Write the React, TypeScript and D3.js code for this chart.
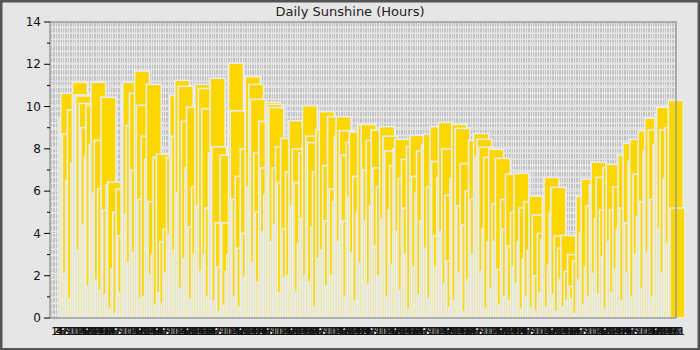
import React from "react";
import * as d3 from "d3";

const sunshine: number[] = [
  9.46, 10.63, 8.7, 2.1, 6.5, 9.84, 0.9, 7.3, 11.15, 10.55,
  10.5, 3.2, 10.15, 9.0, 4.4, 7.6, 10.06, 1.5, 8.2, 11.15,
  5.9, 8.4, 1.8, 6.1, 1.3, 10.44, 5.1, 1.1, 6.3, 6.43,
  0.4, 2.3, 5.0, 0.2, 6.1, 3.9, 1.2, 11.05, 11.15, 4.9,
  9.1, 2.6, 10.63, 7.0, 3.1, 11.68, 10.06, 5.6, 0.9, 8.6,
  1.0, 7.5, 11.05, 5.5, 2.0, 3.0, 7.6, 0.6, 7.75, 1.2,
  3.6, 0.7, 4.2, 2.1, 7.6, 3.9, 10.52, 8.6, 3.2, 11.24,
  5.9, 10.96, 1.4, 9.3, 2.8, 7.1, 9.97, 4.3, 0.9, 6.2,
  3.0, 11.05, 5.3, 10.86, 2.2, 9.9, 3.0, 5.2, 1.0, 7.8,
  11.34, 8.1, 0.8, 4.5, 2.4, 0.3, 7.7, 4.5, 0.6, 2.2,
  3.0, 12.05, 9.8, 5.6, 1.0, 6.7, 3.3, 0.5, 8.0, 4.0,
  1.9, 11.42, 6.2, 11.05, 10.34, 2.6, 7.8, 5.0, 1.7, 9.3,
  7.1, 4.1, 5.8, 10.2, 10.1, 9.95, 3.6, 7.1, 4.4, 8.1,
  6.4, 1.2, 8.5, 4.2, 1.9, 6.9, 2.0, 9.33, 5.3, 8.0,
  6.4, 1.2, 3.5, 7.8, 4.7, 10.04, 2.0, 8.6, 8.3, 1.7,
  4.3, 6.9, 0.5, 8.9, 2.8, 9.76, 3.2, 7.2, 4.6, 1.5,
  9.52, 6.1, 2.0, 5.5, 8.6, 9.52, 3.6, 8.86, 7.7, 4.6,
  1.0, 8.3, 5.7, 8.8, 3.1, 6.7, 0.8, 5.0, 9.16, 2.6,
  9.16, 7.0, 4.6, 8.4, 1.6, 5.3, 8.9, 7.1, 3.4, 6.2,
  2.0, 9.05, 4.7, 8.6, 7.9, 1.0, 5.1, 7.2, 2.5, 8.0,
  8.45, 4.1, 6.6, 1.3, 7.5, 5.2, 3.0, 8.1, 0.4, 8.64,
  6.7, 2.4, 5.9, 7.9, 1.1, 4.6, 8.2, 8.7, 3.3, 6.2,
  0.9, 9.05, 7.4, 3.9, 2.4, 6.6, 9.25, 4.1, 8.0, 1.6,
  5.8, 2.7, 0.5, 6.6, 9.16, 0.8, 8.97, 5.3, 2.1, 7.3,
  4.4, 0.3, 6.0, 1.8, 8.4, 5.6, 3.0, 8.73, 7.6, 8.45,
  8.07, 2.2, 4.2, 7.6, 0.4, 3.6, 7.98, 1.4, 5.4, 3.6,
  7.55, 2.3, 0.6, 5.6, 4.2, 1.0, 6.8, 3.4, 0.8, 5.0,
  2.4, 6.84, 1.6, 3.6, 5.2, 0.4, 2.8, 5.5, 1.0, 3.2,
  5.77, 0.5, 4.87, 2.0, 0.3, 4.0, 1.2, 3.7, 5.7, 6.65,
  0.5, 2.5, 5.0, 6.18, 1.1, 3.88, 0.3, 3.3, 1.8, 3.9,
  0.5, 2.2, 0.8, 3.0, 1.5, 0.9, 2.7, 0.2, 5.77, 1.8,
  4.0, 6.56, 0.6, 2.4, 5.3, 1.0, 6.3, 7.37, 2.1, 4.7,
  6.65, 1.1, 5.1, 2.9, 7.1, 0.4, 7.27, 3.6, 5.1, 1.2,
  6.2, 2.3, 4.2, 7.71, 5.2, 0.8, 8.26, 4.5, 2.1, 7.4,
  8.45, 1.0, 6.8, 3.0, 4.8, 8.86, 5.5, 1.4, 7.9, 9.45,
  3.1, 8.9, 5.6, 1.0, 8.2, 9.64, 9.97, 4.2, 8.9, 2.1,
  6.6, 9.0, 3.5, 10.3, 5.2,
];

const days: Date[] = d3.timeDays(new Date(2019, 0, 1), new Date(2020, 0, 1));
const dayLabels: string[] = days.map(d3.timeFormat("%-d"));
const yTickValues: number[] = d3.range(0, 15, 1);
const yLabelValues: number[] = [0, 2, 4, 6, 8, 10, 12, 14];
const title = "Daily Sunshine (Hours)";

const W = 700;
const H = 350;
const L = 50;
const R = 676;
const T = 22;
const B = 318;

export default function App() {
  const n = sunshine.length;
  const y = d3.scaleLinear().domain([0, 14]).range([B, T]);
  const xBar = d3.scaleLinear().domain([0, n - 1]).range([59, 670]);
  const xGrid = d3.scaleBand<number>().domain(d3.range(n)).range([L, R]);
  const xLabel = d3.scaleLinear().domain([0, n - 1]).range([51, 671]);
  const barW = 15;
  const font = "DejaVu Sans, Verdana, sans-serif";

  return (
    <svg
      width={W}
      height={H}
      style={{ position: "absolute", left: 0, top: 0, display: "block" }}
      fontFamily={font}
    >
      <rect x={0} y={0} width={W} height={H} fill="#e6e6e6" />
      <rect x={1.25} y={1.25} width={W - 2.5} height={H - 2} fill="none" stroke="#555" strokeWidth={2.5} />
      <text x={W / 2} y={16} textAnchor="middle" fontSize={13} fill="#222">
        {title}
      </text>
      {/* grid */}
      <g>
        {d3.range(n).map((i) => {
          const gx = Math.round((xGrid(i) ?? 0) + xGrid.bandwidth() / 2) + 0.5;
          return (
            <line
              key={"g" + i}
              x1={gx}
              x2={gx}
              y1={T}
              y2={B}
              stroke="#c2c2c2"
              strokeWidth={1}
              strokeDasharray="4.5,1.5"
            />
          );
        })}
        {yTickValues.map((v) => (
          <line key={"h" + v} x1={L} x2={R} y1={y(v)} y2={y(v)} stroke="#e6e6e6" strokeWidth={1} />
        ))}
      </g>
      {/* bars */}
      <g>
        {sunshine.map((v, i) => (
          <rect
            key={"b" + i}
            x={xBar(i)}
            y={y(v)}
            width={barW}
            height={B - y(v)}
            fill="#ffd700"
            stroke="#e8eef8"
            strokeWidth={1.5}
          />
        ))}
      </g>
      {/* frame */}
      <rect x={L} y={T} width={R - L} height={B - T} fill="none" stroke="#9a9a9a" strokeWidth={1.5} />
      {/* y axis ticks */}
      <g>
        {yTickValues.map((v) => {
          const major = v % 2 === 0;
          return (
            <line
              key={"t" + v}
              x1={major ? L - 6 : L - 3}
              x2={L}
              y1={y(v)}
              y2={y(v)}
              stroke="#000"
              strokeWidth={1}
            />
          );
        })}
        {yLabelValues.map((v) => (
          <text key={"yl" + v} x={L - 9} y={y(v)} dy="0.35em" textAnchor="end" fontSize={12} fill="#111">
            {v}
          </text>
        ))}
      </g>
      {/* x labels */}
      <g>
        {dayLabels.map((lab, i) => (
          <text key={"xl" + i} x={xLabel(i)} y={335} textAnchor="start" fontSize={11} fill="#111">
            {lab}
          </text>
        ))}
      </g>
    </svg>
  );
}
